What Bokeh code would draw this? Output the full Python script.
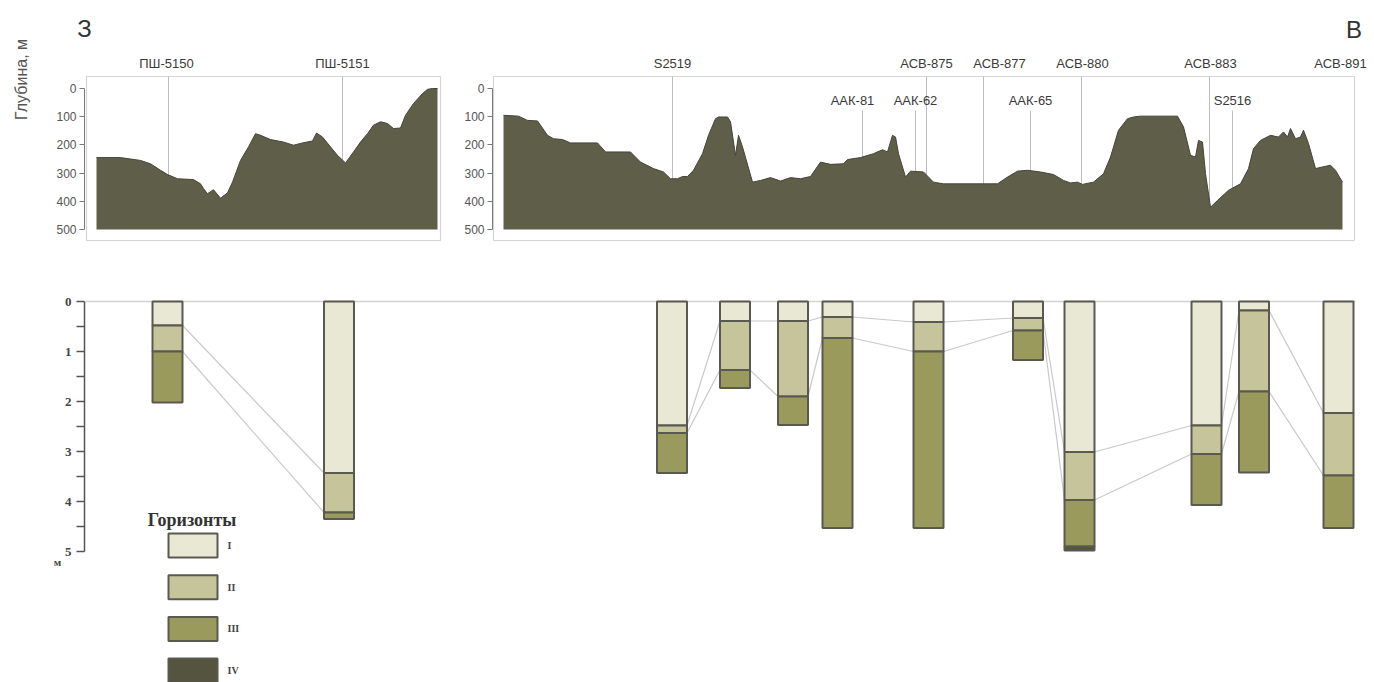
import numpy as np
from bokeh.plotting import figure
from bokeh.models import Range1d, FixedTicker, LinearAxis, ColumnDataSource
from bokeh.layouts import column, row
from bokeh.embed import file_html
from bokeh.resources import INLINE
from bokeh.core.properties import value

# ---------------- top profile: western part (distance, km ; depth, m)
west_km = [0.0, 2.4, 4.4, 5.4, 6.4, 7.1, 8.1, 9.7, 10.4, 10.7, 11.1, 11.7, 12.4, 13.1,
           13.6, 14.4, 15.2, 15.9, 16.4, 17.4, 18.7, 19.7, 20.6, 21.6, 22.0, 22.6, 23.4,
           24.1, 24.9, 25.7, 26.4, 27.1, 27.7, 28.4, 29.1, 29.7, 30.4, 30.9, 31.7, 32.6,
           33.1, 33.6, 34.1]
west_depth = [245, 245, 255, 267, 290, 305, 320, 323, 338, 355, 373, 359, 389, 370,
              332, 255, 207, 160, 166, 181, 190, 201, 193, 186, 158, 172, 207,
              237, 264, 225, 190, 160, 130, 118, 124, 142, 140, 95, 53, 18,
              3, 0, 0]
west_wells = ["ПШ-5150", "ПШ-5151"]
west_well_km = [7.2, 24.6]
west_label_km = [7.0, 24.6]
west_label_row = [1, 1]
west_has_line = [True, True]

# ---------------- top profile: eastern part
east_km = [0.0, 1.5, 2.4, 3.4, 4.4, 5.0, 5.9, 6.7, 9.4, 10.2, 12.7, 13.7, 15.0, 16.0,
           16.7, 17.4, 17.9, 18.4, 19.0, 19.9, 20.5, 21.2, 21.5, 22.4, 22.7, 23.2, 23.5,
           23.9, 24.9, 25.7, 26.7, 27.7, 28.7, 29.7, 30.7, 31.7, 32.7, 34.0, 34.4, 35.7,
           37.0, 37.9, 38.4, 38.9, 39.2, 39.5, 40.2, 40.7, 42.0, 43.0, 44.0, 49.4, 50.4,
           51.4, 52.4, 53.7, 55.0, 56.0, 56.7, 57.4, 57.9, 59.0, 60.0, 60.7, 61.5, 62.4,
           63.0, 63.7, 67.4, 68.0, 68.7, 69.2, 69.5, 69.9, 70.2, 70.7, 71.4, 72.5, 73.7,
           74.5, 75.0, 75.7, 76.7, 77.5, 78.0, 78.4, 78.7, 79.2, 79.7, 80.0, 80.5, 81.2,
           81.9, 82.7, 83.2, 83.9]
east_depth = [95, 98, 113, 115, 166, 178, 181, 193, 193, 225, 225, 261, 284, 296,
              320, 320, 312, 312, 290, 231, 166, 107, 101, 101, 118, 237, 166,
              207, 332, 326, 316, 328, 316, 320, 312, 261, 269, 267, 252, 245,
              231, 217, 225, 166, 172, 231, 314, 293, 296, 332, 338, 338, 314,
              293, 290, 296, 305, 326, 335, 332, 340, 332, 302, 243, 148, 107,
              101, 98, 98, 136, 237, 243, 184, 190, 302, 421, 397, 361, 338,
              284, 213, 184, 166, 172, 154, 172, 142, 178, 172, 148, 195, 284,
              278, 272, 290, 332]
east_wells = ["S2519", "ААК-81", "ААК-62", "АСВ-875", "АСВ-877", "ААК-65",
              "АСВ-880", "АСВ-883", "S2516", "АСВ-891"]
east_well_km = [16.9, 35.9, 41.2, 42.3, 48.0, 52.7, 57.8, 70.6, 72.9, 83.9]
east_label_km = [16.9, 34.9, 41.2, 42.3, 49.6, 52.7, 57.9, 70.7, 72.9, 83.7]
east_label_row = [1, 2, 2, 1, 1, 2, 1, 1, 2, 1]
east_has_line = [True, True, True, True, True, True, True, True, True, False]

depth_ticks = [0, 100, 200, 300, 400, 500]
base_depth = 500

# ---------------- bottom: soil columns (depth of horizon bottoms, m)
col_wells = ["ПШ-5150", "ПШ-5151", "S2519", "ААК-81", "ААК-62", "АСВ-875",
             "АСВ-877", "ААК-65", "АСВ-880", "АСВ-883", "S2516", "АСВ-891"]
col_x = [8.2, 25.35, 58.65, 64.95, 70.75, 75.2, 84.3, 94.25, 99.4, 112.1, 116.85, 125.3]
hor_I = [0.48, 3.43, 2.48, 0.39, 0.39, 0.31, 0.41, 0.33, 3.01, 2.48, 0.18, 2.23]
hor_II = [1.0, 4.22, 2.63, 1.37, 1.90, 0.73, 1.0, 0.58, 3.97, 3.05, 1.80, 3.48]
hor_III = [2.02, 4.35, 3.43, 1.73, 2.47, 4.53, 4.53, 1.17, 4.90, 4.07, 3.42, 4.53]
hor_IV = [None, None, None, None, None, None, None, None, 4.98, None, None, None]
links = [(0, 1), (2, 3), (3, 4), (4, 5), (5, 6), (6, 7), (7, 8), (8, 9), (9, 10), (10, 11)]
col_ticks = [0, 1, 2, 3, 4, 5]
col_minor = [0.5, 1.5, 2.5, 3.5, 4.5]
horizon_names = ["I", "II", "III", "IV"]
horizon_colors = ["#e8e8d4", "#c5c49b", "#9a9a5c", "#55553f"]

SANS = "Liberation Sans"
SERIF = "Liberation Serif"
FILL = "#5f5e48"

BOX_TOP, BOX_BOTTOM = -42.6, 539


def profile_fig(width, xr, box_lr, axis_loc, km, depth, wells, well_km, label_km,
                label_row, has_line):
    p = figure(width=width, height=260, x_range=xr, y_range=Range1d(609.9, -312.1),
               output_backend="svg", toolbar_location=None, x_axis_location=None,
               y_axis_location=None, min_border=0)
    p.grid.visible = False
    p.outline_line_color = None

    ax = LinearAxis(fixed_location=axis_loc)
    ax.ticker = FixedTicker(ticks=depth_ticks)
    ax.bounds = (0, 500)
    ax.axis_line_color = "#7a7a7a"
    ax.major_tick_line_color = "#7a7a7a"
    ax.major_tick_out = 5
    ax.major_tick_in = 0
    ax.minor_tick_line_color = None
    ax.major_label_text_font = SANS
    ax.major_label_text_font_size = "12px"
    ax.major_label_text_color = "#555555"
    ax.major_label_standoff = 3
    p.add_layout(ax, "left")

    # frame box of the panel
    p.quad(left=[box_lr[0]], right=[box_lr[1]], top=[BOX_TOP], bottom=[BOX_BOTTOM],
           fill_color=None, line_color="#d4d4d4", line_width=1.2)

    surf = np.interp(well_km, km, depth)
    xs, y0, y1 = [], [], []
    for k in range(len(wells)):
        if not has_line[k]:
            continue
        xs.append(well_km[k])
        y0.append(BOX_TOP if label_row[k] == 1 else 78)
        y1.append(surf[k])
    p.segment(x0=xs, y0=y0, x1=xs, y1=y1, line_color="#bdbdbd", line_width=1)

    p.varea(x=km, y1=depth, y2=[base_depth] * len(km), fill_color=FILL)
    p.line(km, depth, line_color="#45443a", line_width=1)

    src = ColumnDataSource(dict(x=label_km, y=[-89 if r == 1 else 42 for r in label_row],
                                text=wells))
    p.text(x="x", y="y", text="text", source=src, text_align="center",
           text_baseline="middle", text_font=value(SANS), text_font_size="13px",
           text_color="#3a3a3a")
    return p


p1 = profile_fig(448, Range1d(-9.6, 35.2), (-1.0, 34.4), -1.2, west_km, west_depth,
                 west_wells, west_well_km, west_label_km, west_label_row, west_has_line)
p1.text(x=[-7.5], y=[-32], text=["Глубина, м"], angle=np.pi / 2, text_align="center",
        text_baseline="middle", text_font=value(SANS), text_font_size="16px",
        text_color="#555555")
p1.text(x=[-1.2], y=[-213], text=["З"], text_align="center", text_baseline="middle",
        text_font=value(SANS), text_font_size="24px", text_color="#333333")

p2 = profile_fig(926, Range1d(-5.5, 87.1), (-1.0, 85.1), -1.1, east_km, east_depth,
                 east_wells, east_well_km, east_label_km, east_label_row, east_has_line)
p2.text(x=[85.05], y=[-211], text=["В"], text_align="center", text_baseline="middle",
        text_font=value(SANS), text_font_size="24px", text_color="#333333")

# ---------------- bottom figure with soil columns
pb = figure(width=1374, height=422, x_range=Range1d(-8.5, 128.9), y_range=Range1d(7.62, -0.82),
            output_backend="svg", toolbar_location=None, x_axis_location=None,
            y_axis_location=None, min_border=0)
pb.grid.visible = False
pb.outline_line_color = None
ay = LinearAxis(fixed_location=-0.1)
ay.ticker = FixedTicker(ticks=col_ticks, minor_ticks=col_minor)
ay.bounds = (0, 5)
ay.axis_line_color = "#555555"
ay.axis_line_width = 1.5
ay.major_tick_line_color = "#555555"
ay.major_tick_line_width = 1.5
ay.minor_tick_line_color = "#555555"
ay.minor_tick_line_width = 1.5
ay.major_tick_out = 8
ay.major_tick_in = 0
ay.minor_tick_out = 8
ay.minor_tick_in = 0
ay.major_label_text_font = SERIF
ay.major_label_text_font_style = "bold"
ay.major_label_text_font_size = "13px"
ay.major_label_text_color = "#444444"
ay.major_label_standoff = 5
pb.add_layout(ay, "left")

half_w = 1.5
pb.segment(x0=[0], y0=[0], x1=[col_x[-1] + half_w + 0.2], y1=[0],
           line_color="#d2d2d2", line_width=1.5)

# correlation lines between neighbouring columns
lx0, ly0, lx1, ly1 = [], [], [], []
for i, j in links:
    for b in (hor_I, hor_II):
        lx0.append(col_x[i] + half_w)
        ly0.append(b[i])
        lx1.append(col_x[j] - half_w)
        ly1.append(b[j])
pb.segment(x0=lx0, y0=ly0, x1=lx1, y1=ly1, line_color="#c9c9c9", line_width=1.2)

bounds = [hor_I, hor_II, hor_III, hor_IV]
for h in range(4):
    left, right, tops, bots = [], [], [], []
    for c in range(len(col_x)):
        b = bounds[h][c]
        if b is None:
            continue
        t = 0 if h == 0 else bounds[h - 1][c]
        left.append(col_x[c] - half_w)
        right.append(col_x[c] + half_w)
        tops.append(t)
        bots.append(b)
    pb.quad(left=left, right=right, top=tops, bottom=bots, fill_color=horizon_colors[h],
            line_color="#595950", line_width=2)

pb.text(x=[-2.8], y=[5.2], text=["м"], text_font=value(SERIF), text_font_style="bold",
        text_font_size="11px", text_align="center", text_baseline="middle",
        text_color="#444444")

# legend (Горизонты)
leg_x0, leg_x1 = 8.3, 13.2
leg_top0, leg_step, leg_h = 4.64, 0.834, 0.48
leg_tops = [leg_top0 + k * leg_step for k in range(4)]
pb.quad(left=[leg_x0] * 4, right=[leg_x1] * 4, top=leg_tops,
        bottom=[t + leg_h for t in leg_tops], fill_color=horizon_colors,
        line_color="#595950", line_width=2)
pb.text(x=[leg_x1 + 1.0] * 4, y=[t + leg_h / 2 for t in leg_tops], text=horizon_names,
        text_font=value(SERIF), text_font_style="bold", text_font_size="10px",
        text_align="left", text_baseline="middle", text_color="#444444")
pb.text(x=[10.65], y=[4.36], text=["Горизонты"], text_font=value(SERIF),
        text_font_style="bold", text_font_size="18px", text_align="center",
        text_baseline="middle", text_color="#333333")

layout = column(row(p1, p2), pb)
open("out.html", "w").write(file_html(layout, INLINE))
